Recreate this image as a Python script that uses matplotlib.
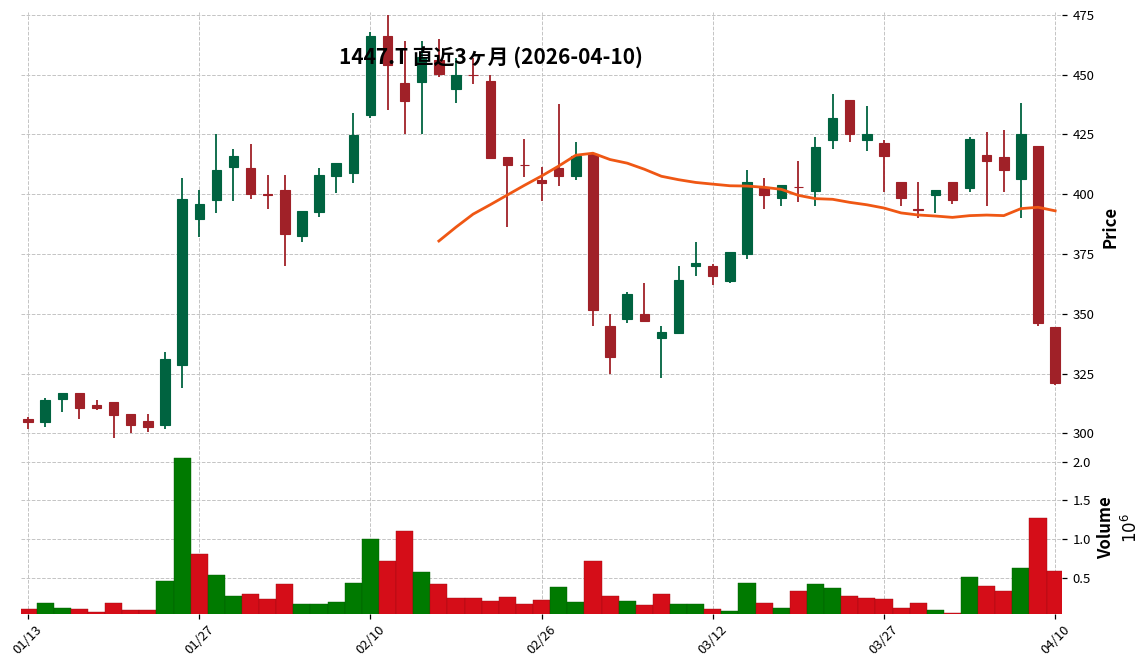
import matplotlib
matplotlib.use("Agg")
import matplotlib.pyplot as plt
import numpy as np
import pandas as pd
from matplotlib.ticker import FuncFormatter, MultipleLocator, FixedLocator

plt.rcParams['font.family'] = ['Noto Sans CJK JP', 'DejaVu Sans']

title = "1447.T 直近3ヶ月 (2026-04-10)"

dates = ["01/13", "01/14", "01/15", "01/16", "01/19", "01/20", "01/21", "01/22", "01/23", "01/26",
         "01/27", "01/28", "01/29", "01/30", "02/02", "02/03", "02/04", "02/05", "02/06", "02/09",
         "02/10", "02/12", "02/13", "02/16", "02/17", "02/18", "02/19", "02/20", "02/24", "02/25",
         "02/26", "02/27", "03/02", "03/03", "03/04", "03/05", "03/06", "03/09", "03/10", "03/11",
         "03/12", "03/13", "03/16", "03/17", "03/18", "03/19", "03/23", "03/24", "03/25", "03/26",
         "03/27", "03/30", "03/31", "04/01", "04/02", "04/03", "04/06", "04/07", "04/08", "04/09",
         "04/10"]

opens = [306.0, 304.9, 314.5, 316.9, 311.9, 313.1, 308.1, 305.2, 303.5, 328.7,
         389.7, 397.6, 411.6, 411.0, 400.0, 401.8, 382.7, 392.7, 407.8, 408.7,
         433.1, 466.1, 446.4, 446.9, 456.3, 444.0, 450.0, 447.2, 415.6, 412.3,
         406.0, 410.8, 407.8, 416.8, 345.1, 347.8, 350.1, 339.9, 341.9, 369.9,
         370.1, 363.9, 374.9, 403.2, 398.6, 403.1, 401.5, 422.9, 439.3, 422.9,
         421.25, 405.1, 393.9, 399.9, 405.1, 402.8, 416.25, 415.4, 406.4, 420.0,
         344.4]
highs = [306.7, 314.8, 316.9, 316.9, 313.9, 313.1, 308.1, 308.1, 333.9, 406.7,
         401.7, 425.0, 418.9, 421.0, 408.0, 408.0, 393.0, 410.9, 413.1, 434.0,
         467.9, 475.0, 464.0, 464.0, 465.0, 457.1, 457.1, 450.0, 415.6, 423.3,
         411.5, 437.9, 421.7, 417.4, 350.0, 359.2, 362.9, 344.9, 369.9, 380.0,
         370.8, 376.0, 410.1, 406.7, 403.9, 413.9, 423.75, 441.9, 439.3, 436.9,
         422.9, 405.1, 405.0, 401.8, 405.1, 423.75, 426.1, 426.9, 438.2, 420.0,
         344.6]
lows = [301.7, 302.8, 308.8, 305.9, 309.8, 297.9, 300.0, 300.7, 301.7, 318.8,
        382.0, 392.0, 397.1, 397.9, 393.7, 369.9, 379.9, 390.6, 400.7, 404.9,
        432.1, 435.1, 425.0, 425.0, 449.0, 438.3, 446.3, 415.3, 386.3, 407.1,
        397.2, 403.6, 405.8, 344.9, 325.0, 346.3, 346.9, 323.3, 341.9, 365.7,
        362.2, 362.9, 372.9, 393.8, 394.9, 396.9, 394.9, 419.0, 422.0, 418.2,
        400.8, 394.9, 390.0, 392.1, 395.8, 400.8, 394.9, 400.8, 390.0, 344.9,
        320.1]
closes = [304.9, 313.9, 316.9, 310.7, 310.6, 307.8, 303.6, 302.8, 331.1, 398.0,
          395.9, 410.2, 416.1, 400.0, 399.8, 383.4, 393.0, 408.1, 413.1, 424.9,
          466.1, 454.0, 439.0, 457.2, 450.3, 450.0, 449.8, 415.3, 412.4, 412.1,
          404.9, 407.8, 416.0, 351.8, 331.9, 358.1, 346.9, 342.2, 364.3, 371.1,
          365.7, 376.0, 405.1, 399.9, 403.9, 402.9, 419.7, 432.1, 425.3, 425.0,
          416.0, 398.6, 393.6, 401.8, 397.8, 423.1, 413.9, 410.1, 425.0, 346.0,
          321.0]
volumes = [103000, 180000, 116000, 103000, 64000, 180000, 90000, 90000, 464000, 2047000,
           811000, 541000, 270000, 296000, 232000, 425000, 167000, 167000, 193000, 438000,
           1004000, 721000, 1107000, 579000, 425000, 245000, 245000, 206000, 258000, 167000,
           219000, 386000, 193000, 721000, 270000, 206000, 155000, 296000, 167000, 167000,
           103000, 77000, 438000, 180000, 116000, 335000, 425000, 373000, 270000, 245000,
           232000, 116000, 180000, 90000, 52000, 515000, 399000, 335000, 631000, 1275000,
           592000]

ma_window = 25
tick_step = 10

up_c, down_c = '#006340', '#A02128'
vup_c, vdown_c = '#007a00', '#d50d18'
vup_e, vdown_e = '#005c00', '#a00a12'
ma_color = '#ef5714'
grid_kw = dict(color='#c4c4c4', linestyle='--', linewidth=0.7)

o = np.array(opens); h = np.array(highs); l = np.array(lows); c = np.array(closes)
v = np.array(volumes, dtype=float)
x = np.arange(len(dates))
up = c >= o
ccol = np.where(up, up_c, down_c)
prev = np.concatenate([[o[0]], c[:-1]])
vup = c > prev
vcol = np.where(vup, vup_c, vdown_c)
vedge = np.where(vup, vup_e, vdown_e)
ma = pd.Series(c).rolling(ma_window).mean().to_numpy()

W, H = 1148, 671
fig = plt.figure(figsize=(W / 100, H / 100), dpi=100)
left, right = 20.5 / W, 1062 / W
top_px, mid_px, bot_px = 12.3, 442.0, 613.7
ax = fig.add_axes([left, 1 - mid_px / H, right - left, (mid_px - top_px) / H])
axv = fig.add_axes([left, 1 - bot_px / H, right - left, (bot_px - mid_px) / H], sharex=ax)

for a in (ax, axv):
    for s in a.spines.values():
        s.set_visible(False)
    a.set_axisbelow(True)
    a.grid(True, **grid_kw)
    a.yaxis.tick_right()
    a.yaxis.set_label_position('right')
    a.tick_params(axis='y', length=3.5, width=0.9, labelsize=9.5, pad=4)

# candles
ax.vlines(x, l, h, colors=ccol, linewidth=1.3, zorder=2)
body_bottom = np.minimum(o, c)
body_height = np.abs(c - o)
ax.bar(x, body_height, bottom=body_bottom, width=0.55, color=ccol,
       edgecolor=ccol, linewidth=0.8, zorder=3)
ax.plot(x, ma, color=ma_color, linewidth=2.0, zorder=4)

ax.set_ylim(296.4, 476.1)
ax.yaxis.set_major_locator(MultipleLocator(25))
ax.set_xlim(-0.44, len(dates) - 1 + 0.4)
ax.xaxis.set_major_locator(FixedLocator(x[::tick_step]))
ax.tick_params(axis='x', length=0, labelbottom=False)
ax.set_ylabel('Price', fontsize=12, fontweight='bold')
ax.yaxis.set_label_coords(1.038, 0.5)

# volume
axv.bar(x, v, width=1.0, color=vcol, edgecolor=vedge, linewidth=0.3, zorder=3)
axv.set_ylim(0.04e6, 1.1 * v.max())
axv.yaxis.set_major_locator(MultipleLocator(0.5e6))
axv.yaxis.set_major_formatter(FuncFormatter(lambda val, pos: f"{val / 1e6:.1f}"))
axv.set_xticks(x[::tick_step])
axv.set_xticklabels([dates[i] for i in x[::tick_step]], rotation=45, fontsize=9.5)
axv.tick_params(axis='x', length=3.5, width=0.9, pad=3)
axv.set_ylabel('Volume\n$10^{6}$', fontsize=12, fontweight='bold', linespacing=1.35)
axv.yaxis.set_label_coords(1.034, 0.5)

fig.text(491 / W, 1 - 57 / H, title, ha='center', va='center', fontsize=15, fontweight='bold')

fig.savefig('out.png', dpi=100)
